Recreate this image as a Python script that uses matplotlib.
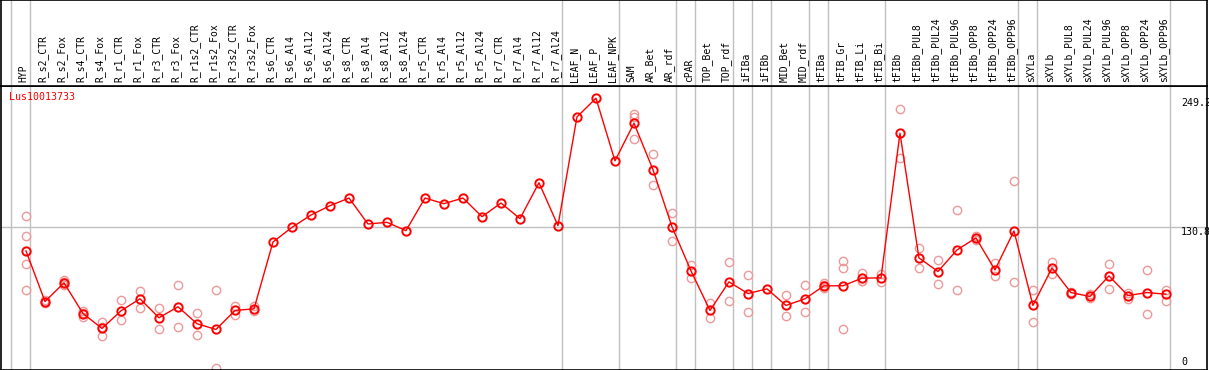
import matplotlib
matplotlib.use("Agg")
import matplotlib.pyplot as plt
import matplotlib.transforms as mtransforms

gene = "Lus10013733"

samples = [
    "HYP", "R_s2_CTR", "R_s2_Fox", "R_s4_CTR", "R_s4_Fox", "R_r1_CTR", "R_r1_Fox",
    "R_r3_CTR", "R_r3_Fox", "R_r1s2_CTR", "R_r1s2_Fox", "R_r3s2_CTR", "R_r3s2_Fox",
    "R_s6_CTR", "R_s6_Al4", "R_s6_Al12", "R_s6_Al24", "R_s8_CTR", "R_s8_Al4",
    "R_s8_Al12", "R_s8_Al24", "R_r5_CTR", "R_r5_Al4", "R_r5_Al12", "R_r5_Al24",
    "R_r7_CTR", "R_r7_Al4", "R_r7_Al12", "R_r7_Al24", "LEAF_N", "LEAF_P", "LEAF_NPK",
    "SAM", "AR_Bet", "AR_rdf", "cPAR", "TOP_Bet", "TOP_rdf", "iFIBa", "iFIBb",
    "MID_Bet", "MID_rdf", "tFIBa", "tFIB_Gr", "tFIB_Li", "tFIB_Bi", "tFIBb",
    "tFIBb_PUL8", "tFIBb_PUL24", "tFIBb_PUL96", "tFIBb_OPP8", "tFIBb_OPP24",
    "tFIBb_OPP96", "sXYLa", "sXYLb", "sXYLb_PUL8", "sXYLb_PUL24", "sXYLb_PUL96",
    "sXYLb_OPP8", "sXYLb_OPP24", "sXYLb_OPP96",
]

# mean expression per sample
means = [
    109.2, 62.8, 79.9, 51.8, 38.1, 54.3, 65.3, 47.9, 58.0, 42.4, 37.2, 54.6, 56.1,
    117.4, 130.8, 142.1, 150.7, 157.7, 133.9, 135.4, 127.8, 157.7, 152.5, 157.7, 140.6,
    153.1, 138.8, 171.7, 132.4, 232.1, 249.2, 191.8,
    226.3, 183.7, 131.4, 90.9, 54.6, 80.8, 70.1, 74.4, 59.2, 65.3, 77.2, 77.2, 84.2, 84.5,
    217.1, 102.8, 90.3, 110.1, 121.1, 91.8, 127.5, 59.2, 93.6, 71.0, 67.4, 86.3, 68.3,
    71.0, 69.5,
]

# individual replicates
replicates = [
    [141.5, 123.2, 97.6, 73.8], [64, 62, 61], [82.5, 80.5, 78], [54, 52, 49],
    [44, 39, 31], [64.6, 45.4], [72.9, 57.0], [57.0, 37.8], [77.5, 39.0],
    [52.4, 32.0], [73.8, 1.8], [58.5, 50.3], [58.5, 54.0],
    [], [], [], [], [], [], [], [], [], [], [], [], [], [], [], [], [], [], [],
    [234.5, 232.3, 211.7], [197.9, 169.5], [144, 118.6], [96.7, 84.5], [61.3, 47.9],
    [99.1, 63.4], [87.5, 53.4], [], [69.2, 49.7], [77.5, 53.4], [79.5, 77.5, 75.5],
    [100.3, 93.6, 37.2], [89.3, 81.4, 82], [88.1, 80.5], [239.1, 194.3],
    [111.9, 93.6], [101, 79], [146.7, 73.5], [123.2, 121, 119], [97.9, 86],
    [173.2, 80.8], [73.5, 44.2], [99.4, 88.1], [71.6, 70], [70.1, 66], [97.6, 74.4],
    [71, 68, 65], [91.8, 50.9], [73.8, 63.7],
]

# vertical separators drawn after these sample indices
group_ends = [-1, 0, 28, 31, 34, 35, 37, 38, 39, 41, 42, 45, 52, 53, 60]
yticks = [0, 130.8, 249.2]

W, H = 1209, 370
fig = plt.figure(figsize=(W / 100, H / 100), dpi=100)
sep = 85.7  # pixel row of label/plot separator
x0, x1 = -1.316, 62.16

ax = fig.add_axes([1 / W, 0, 1206 / W, (H - sep) / H])
axl = fig.add_axes([1 / W, (H - sep) / H, 1206 / W, sep / H], sharex=ax)

grey = "#c0c0c0"
for a in (ax, axl):
    for g in group_ends:
        a.axvline(g + 0.21, color=grey, lw=1, zorder=0)
    for s in a.spines.values():
        s.set_color("black")
        s.set_linewidth(1.2)
    a.set_xticks([])
    a.set_yticks([])

ax.set_xlim(x0, x1)
ax.set_ylim(0, 260.7)
axl.set_ylim(0, 1)
ax.axhline(130.8, color=grey, lw=1, zorder=0)

xs = list(range(len(samples)))
rx = [i for i, r in enumerate(replicates) for _ in r]
ry = [v for r in replicates for v in r]
ax.plot(rx, ry, ls="none", marker="o", ms=6, mfc="none", mec="#ee9999",
        mew=1.0, zorder=2)
ax.plot(xs, means, color="red", lw=1, zorder=3)
ax.plot(xs, means, ls="none", marker="o", ms=6, mfc="none", mec="red",
        mew=1.4, zorder=4)

mono = "DejaVu Sans Mono"
for i, name in enumerate(samples):
    axl.text(i - 0.12, 0.045, name, rotation=90, ha="center", va="bottom",
             fontsize=7, family=mono)

ax.text(8 / 1206, 1 - 11 / (H - sep), gene, transform=ax.transAxes, color="red",
        fontsize=7.2, family=mono, va="center", ha="left")

trans = mtransforms.blended_transform_factory(ax.transAxes, ax.transData)
for t in yticks:
    off = 8 if t == 0 else -4.5
    ax.annotate(f"{t:g}", xy=(1180 / 1206, t), xycoords=trans,
                xytext=(0, off * 0.72), textcoords="offset points",
                fontsize=7.2, family=mono, va="center", ha="left",
                annotation_clip=False)

fig.savefig("out.png", dpi=100)
